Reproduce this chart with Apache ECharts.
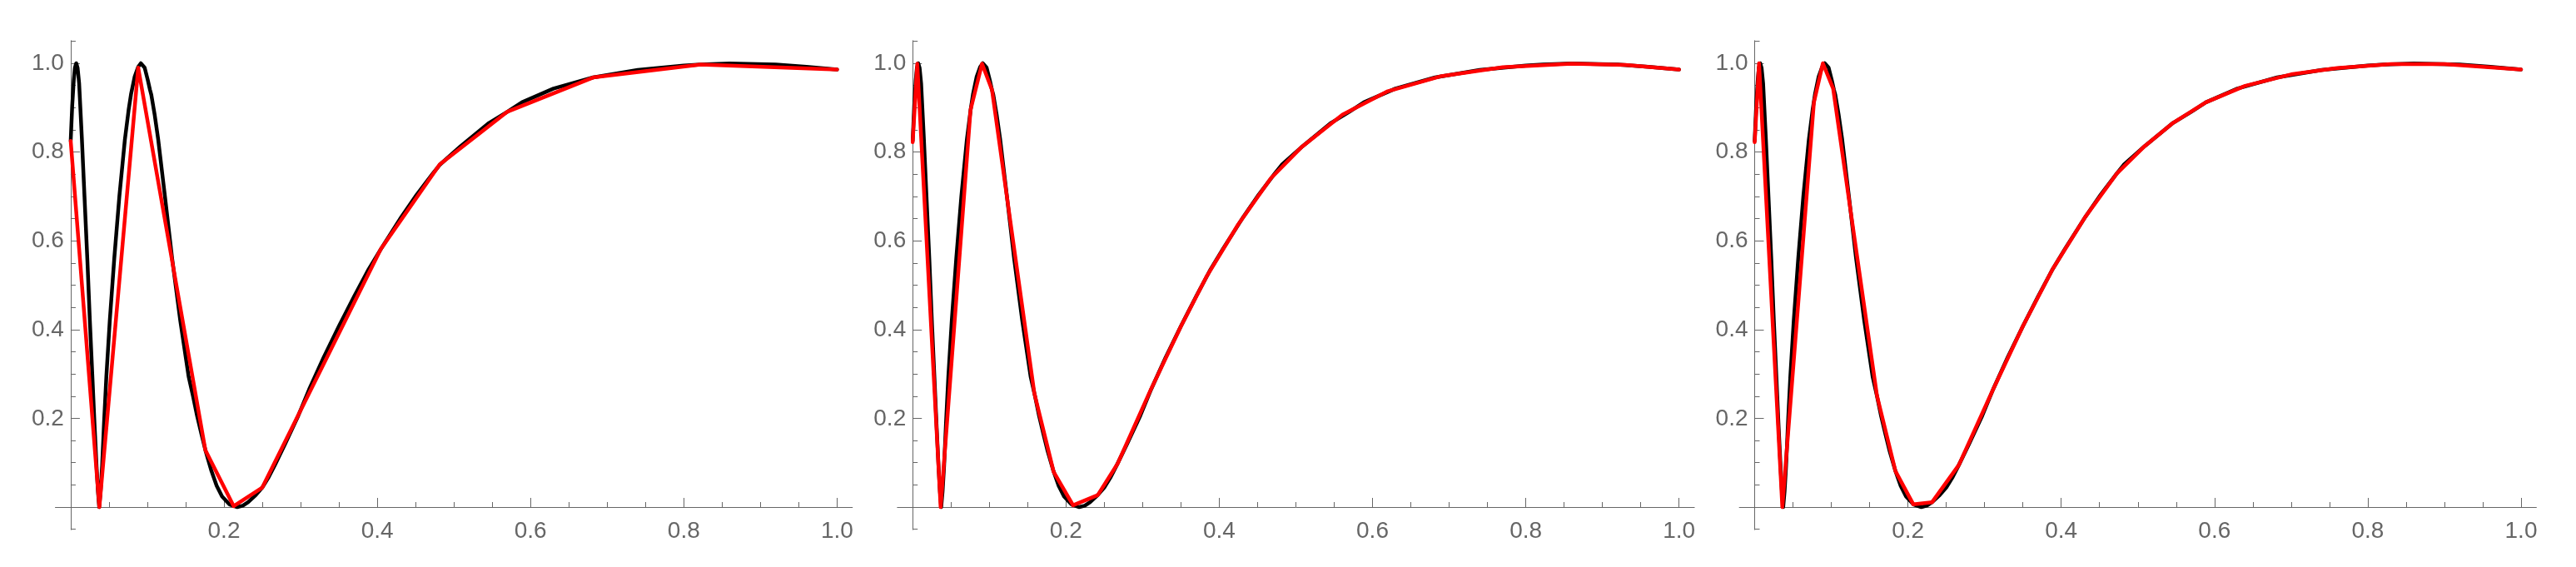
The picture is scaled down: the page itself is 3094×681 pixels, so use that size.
<!DOCTYPE html>
<html><head><meta charset="utf-8">
<script src="https://cdn.jsdelivr.net/npm/echarts@6/dist/echarts.min.js"></script>
<style>html,body{margin:0;padding:0;background:#fff}#c{width:3094px;height:681px}</style>
</head><body><div id="c"></div>
<script>
// exact function (black), identical in all three panels
const exactCurve = [
  [0,0.825],[0.002,0.905],[0.004,0.962],[0.0055,0.99],[0.0072,1.0],[0.009,0.99],[0.011,0.955],
  [0.0146,0.83],[0.018,0.70],[0.0218,0.555],[0.025,0.42],[0.0284,0.29],[0.031,0.19],[0.0338,0.09],
  [0.0356,0.035],[0.0372,0.0],[0.039,0.035],[0.041,0.093],[0.0435,0.19],[0.0465,0.293],[0.051,0.42],
  [0.0569,0.561],[0.0635,0.70],[0.0707,0.828],[0.0756,0.895],[0.0787,0.93],[0.0835,0.97],[0.0881,0.992],
  [0.0915,1.0],[0.0965,0.99],[0.1005,0.963],[0.1035,0.94],[0.1052,0.929],[0.1095,0.885],[0.1142,0.828],
  [0.123,0.70],[0.1323,0.561],[0.143,0.42],[0.154,0.293],[0.1596,0.25],[0.165,0.205],[0.1705,0.165],
  [0.1758,0.128],[0.1837,0.081],[0.1905,0.048],[0.1975,0.024],[0.2071,0.006],[0.2174,0.0],[0.2245,0.003],
  [0.2315,0.011],[0.2415,0.027],[0.25,0.044],[0.2585,0.068],[0.2665,0.095],[0.28,0.143],[0.297,0.206],
  [0.3111,0.265],[0.33,0.337],[0.35,0.4075],[0.37,0.475],[0.3888,0.536],[0.4046,0.581],[0.4315,0.654],
  [0.4515,0.704],[0.4723,0.751],[0.4815,0.771],[0.509,0.8135],[0.546,0.8657],[0.57,0.891],[0.5888,0.912],
  [0.63,0.943],[0.6817,0.968],[0.74,0.985],[0.80,0.995],[0.822,0.997],[0.86,0.9995],[0.92,0.997],
  [0.96,0.992],[1.0,0.986]
];
// piecewise-linear approximations (red), one per panel
const approxCoarse = [
  [0,0.825],[0.0374,0],[0.0881,0.99],[0.1758,0.128],[0.2127,0.002],[0.25,0.044],[0.4046,0.581],
  [0.4815,0.772],[0.57,0.891],[0.6817,0.968],[0.822,0.997],[1.0,0.986]
];
const approxMedium = [
  [0,0.822],[0.006,0.999],[0.0365,0],[0.0755,0.895],[0.0905,0.999],[0.1035,0.94],[0.1588,0.256],
  [0.184,0.079],[0.2093,0.004],[0.2415,0.027],[0.2675,0.098],[0.31,0.262],[0.35,0.407],[0.384,0.521],
  [0.4248,0.637],[0.4675,0.741],[0.508,0.812],[0.5608,0.884],[0.62,0.937],[0.69,0.971],[0.77,0.991],
  [0.86,0.999],[0.93,0.996],[1.0,0.986]
];
const approxFine = [
  [0,0.822],[0.0057,1.0],[0.0361,0],[0.0773,0.912],[0.089,1.0],[0.1024,0.943],[0.1596,0.251],
  [0.1837,0.081],[0.2071,0.006],[0.2315,0.011],[0.2665,0.095],[0.3111,0.265],[0.35,0.4075],[0.3888,0.536],
  [0.4315,0.654],[0.4723,0.751],[0.509,0.8135],[0.546,0.8657],[0.5888,0.912],[0.64,0.949],[0.70,0.975],
  [0.76,0.989],[0.83,0.998],[0.90,0.998],[1.0,0.986]
];
const majorTicks = [0, 0.2, 0.4, 0.6, 0.8, 1.0];
const tickLabels = [0.2, 0.4, 0.6, 0.8, 1.0];
const minorTicksX = [0.05,0.1,0.15,0.25,0.3,0.35,0.45,0.5,0.55,0.65,0.7,0.75,0.85,0.9,0.95];
const minorTicksY = [-0.05,0.05,0.1,0.15,0.25,0.3,0.35,0.45,0.5,0.55,0.65,0.7,0.75,0.85,0.9,0.95,1.05];

const approximations = [approxCoarse, approxMedium, approxFine];
const axisColor = '#666';
const fontFamily = '"Liberation Sans", Arial, sans-serif';

const chart = echarts.init(document.getElementById('c'), null, {renderer: 'canvas'});
const grids = [], xAxes = [], yAxes = [], series = [];
const n = approximations.length;
// plot grids (axes crossing at the origin)
approximations.forEach((approx, i) => {
  grids.push({left: 66.5 + i * 1011.3, top: 48.8, width: 957.3, height: 587.4, containLabel: false, outerBoundsMode: 'none'});
  xAxes.push({type: 'value', gridIndex: i, min: -0.02, max: 1.02, position: 'bottom',
    axisLine: {show: true, onZero: true, onZeroAxisIndex: 2 * i, lineStyle: {color: axisColor, width: 1}},
    axisTick: {show: true, inside: true, length: 11, customValues: majorTicks, lineStyle: {color: axisColor, width: 1}},
    axisLabel: {show: false}, splitLine: {show: false}});
  xAxes.push({type: 'value', gridIndex: i, min: -0.02, max: 1.02, position: 'bottom',
    axisLine: {show: false, onZero: true, onZeroAxisIndex: 2 * i + 1},
    axisTick: {show: true, inside: true, length: 6, customValues: minorTicksX, lineStyle: {color: axisColor, width: 1}},
    axisLabel: {show: false}, splitLine: {show: false}});
  yAxes.push({type: 'value', gridIndex: i, min: -0.051, max: 1.051, position: 'left',
    axisLine: {show: true, onZero: true, onZeroAxisIndex: 2 * i, lineStyle: {color: axisColor, width: 1}},
    axisTick: {show: true, inside: true, length: 11, customValues: majorTicks, lineStyle: {color: axisColor, width: 1}},
    axisLabel: {show: false}, splitLine: {show: false}});
  yAxes.push({type: 'value', gridIndex: i, min: -0.051, max: 1.051, position: 'left',
    axisLine: {show: false, onZero: true, onZeroAxisIndex: 2 * i + 1},
    axisTick: {show: true, inside: true, length: 6, customValues: minorTicksY, lineStyle: {color: axisColor, width: 1}},
    axisLabel: {show: false}, splitLine: {show: false}});
  series.push({type: 'line', xAxisIndex: 2 * i, yAxisIndex: 2 * i, data: exactCurve, symbol: 'none', showSymbol: false,
    lineStyle: {color: '#000', width: 4.5, cap: 'round', join: 'round'}, silent: true, z: 2});
  series.push({type: 'line', xAxisIndex: 2 * i, yAxisIndex: 2 * i, data: approx, symbol: 'none', showSymbol: false,
    lineStyle: {color: '#ff0000', width: 4.5, cap: 'round', join: 'round'}, silent: true, z: 3});
});
// label grids whose bottom/left edges sit on the zero lines of the plot grids
approximations.forEach((approx, i) => {
  const gi = n + i;
  grids.push({left: 84.9 + i * 1011.3, top: 48.8, width: 938.9, height: 560.7, containLabel: false, outerBoundsMode: 'none'});
  const labelBase = {show: true, customValues: tickLabels, formatter: v => v.toFixed(1), color: axisColor, fontSize: 28, fontFamily: fontFamily};
  xAxes.push({type: 'value', gridIndex: gi, min: 0, max: 1.02, position: 'bottom',
    axisLine: {show: false, onZero: false}, axisTick: {show: false},
    axisLabel: Object.assign({}, labelBase, {margin: 15}), splitLine: {show: false}});
  yAxes.push({type: 'value', gridIndex: gi, min: 0, max: 1.051, position: 'left',
    axisLine: {show: false, onZero: false}, axisTick: {show: false},
    axisLabel: Object.assign({}, labelBase, {margin: 8}), splitLine: {show: false}});
});
chart.setOption({animation: false, backgroundColor: '#fff', grid: grids, xAxis: xAxes, yAxis: yAxes, series: series});
</script></body></html>
